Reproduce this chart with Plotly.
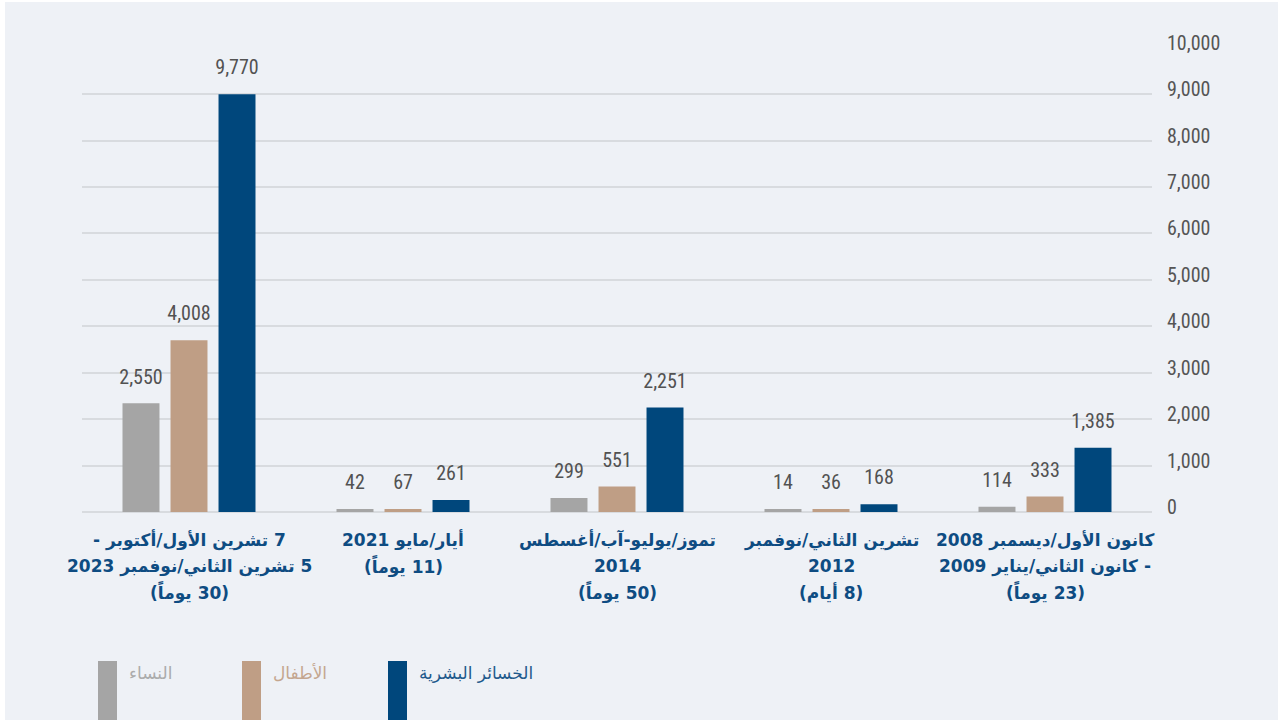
import plotly.graph_objects as go

RLM = "\u200f"

# Categories (display order, left to right)
categories = [
    "7 تشرين الأول/أكتوبر -<br>5 تشرين الثاني/نوفمبر 2023<br>(30 يوماً)",
    "أيار/مايو 2021<br>(11 يوماً)",
    "تموز/يوليو-آب/أغسطس<br>2014<br>(50 يوماً)",
    "تشرين الثاني/نوفمبر<br>2012<br>(8 أيام)",
    "كانون الأول/ديسمبر 2008<br>- كانون الثاني/يناير 2009<br>(23 يوماً)",
]

series_names = ["النساء", "الأطفال", "الخسائر البشرية"]

# Labelled values
women_values = [2550, 42, 299, 14, 114]
children_values = [4008, 67, 551, 36, 333]
total_values = [9770, 261, 2251, 168, 1385]

# Bar heights as drawn in the picture
women_bars = [2340, 64, 299, 64, 114]
children_bars = [3700, 67, 551, 64, 333]
total_bars = [9000, 261, 2251, 168, 1385]

colors = ["#a5a5a5", "#bf9e85", "#00477c"]
legend_text_colors = ["#ababab", "#c4a68f", "#1f5a8c"]

y_ticks = list(range(0, 10001, 1000))

num_font = "Liberation Sans Narrow, Roboto Condensed, Arial Narrow, Roboto, sans-serif"
ar_font = "DejaVu Sans, Noto Sans, sans-serif"

fig = go.Figure()

bars = [women_bars, children_bars, total_bars]
vals = [women_values, children_values, total_values]

for i in range(3):
    fig.add_trace(go.Bar(
        x=categories, y=bars[i], name=series_names[i],
        marker=dict(color=colors[i], line=dict(width=0)),
        offsetgroup=str(i), showlegend=False, hoverinfo="skip",
    ))
for i in range(3):
    fig.add_trace(go.Scatter(
        x=categories, y=bars[i], mode="markers+text",
        text=[f"{v:,}" for v in vals[i]], textposition="top center",
        textfont=dict(family=num_font, size=20, color="#525252"),
        marker=dict(size=22, opacity=0),
        offsetgroup=str(i), showlegend=False, hoverinfo="skip",
    ))

# category labels: one annotation per line for wider line spacing
for cat in categories:
    for k, line in enumerate(cat.split("<br>")):
        fig.add_annotation(x=cat, y=0, xref="x", yref="y",
                           text="<b>" + RLM + line + RLM + "</b>",
                           showarrow=False, xanchor="center", yanchor="middle",
                           yshift=-(28 + 26 * k),
                           font=dict(family=ar_font, size=17, color="#0e4c82"))

# figure pixel geometry (figure sits at page x=5, y=2)
FIG_W, FIG_H = 1273, 718
px0, pw, py0, ph = 77, 1070, 510, 465


def xp(px):
    return (px - 5 - px0) / pw


def yp(py):
    return (py0 - (py - 2)) / ph


sw_x = [98, 242, 388]
for i in range(3):
    fig.add_shape(type="rect", xref="paper", yref="paper",
                  x0=xp(sw_x[i]), x1=xp(sw_x[i] + 19), y0=yp(661), y1=yp(740),
                  fillcolor=colors[i], line=dict(width=0), layer="above")
    fig.add_annotation(xref="paper", yref="paper", x=xp(sw_x[i] + 29), y=yp(673),
                       text=RLM + series_names[i] + RLM, showarrow=False,
                       xanchor="left", yanchor="middle",
                       font=dict(family=ar_font, size=17, color=legend_text_colors[i]))

fig.update_layout(
    width=FIG_W, height=FIG_H,
    margin=dict(l=px0, r=FIG_W - px0 - pw, t=py0 - ph, b=FIG_H - py0),
    paper_bgcolor="#eef1f6", plot_bgcolor="#eef1f6",
    barmode="group", bargap=0.327, bargroupgap=0.23,
    scattermode="group", scattergap=0.327,
    xaxis=dict(type="category", range=[-0.5, len(categories) - 0.5],
               showgrid=False, showline=False, zeroline=False,
               ticks="", showticklabels=False, fixedrange=True),
    yaxis=dict(side="right", range=[0, 10015], tickvals=y_ticks, tickformat=",",
               showgrid=True, gridcolor="#d8dbdf", gridwidth=2,
               zeroline=True, zerolinecolor="#d8dbdf", zerolinewidth=2,
               showline=False, ticks="", ticklabelstandoff=14, ticklabelshift=-5,
               tickfont=dict(family=num_font, size=20, color="#555555"),
               fixedrange=True),
    font=dict(family=ar_font),
)

fig.write_html("out.html",
               post_script="document.body.style.margin='2px 0 0 5px';document.body.style.background='#ffffff';")
